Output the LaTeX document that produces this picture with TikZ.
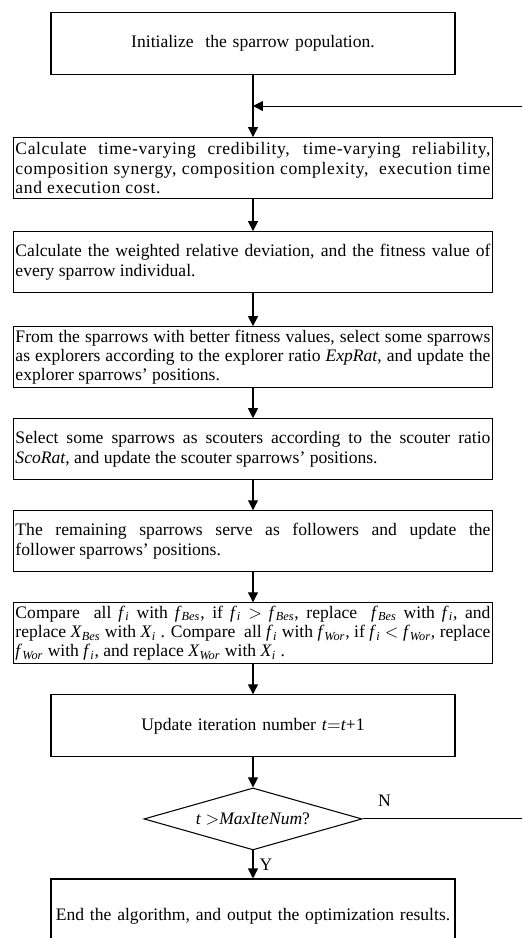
\documentclass[tikz,border=0pt]{standalone}
\usepackage{fontspec}
\setmainfont{Liberation Serif}
\usepackage{amsmath}
\usepackage{tikz}
\usetikzlibrary{positioning,calc,shapes.geometric,arrows.meta}
\hyphenpenalty=10000
\exhyphenpenalty=10000
\newcommand{\sv}[2]{\textit{#1}\textsubscript{\textit{#2}}}
\tikzstyle{wide} = [draw, rectangle, text width=9.5cm, inner xsep=0.04cm, inner ysep=0pt, minimum height=1.22cm, align=justify, font=\fontsize{10pt}{11pt}\selectfont]
\tikzstyle{narrow} = [draw, rectangle, text width=7.9cm, inner xsep=0.09cm, minimum height=1.24cm, align=center]
\tikzstyle{decision} = [draw, diamond, aspect=3.5, minimum width=4.36cm, minimum height=1.24cm, inner sep=0pt]
\tikzstyle{data} = []
\tikzstyle{flow} = [-{Triangle[length=2mm,width=2mm]}]

\begin{document}
\begin{tikzpicture}[auto, node distance=0.6cm, line width=0.6pt]
	\useasboundingbox (-5.06,0.87) rectangle (5.38,-17.89);
	\clip (-5.06,0.87) rectangle (5.38,-17.89);
	\node (init) [narrow] {Initialize\ \ the sparrow population.};
	\node (cred) [wide, below=1.24cm of init] {\addfontfeatures{LetterSpace=3.5}Calculate time-varying credibility, time-varying reliability,\linebreak composition synergy, composition complexity,\ \ execution time\linebreak and execution cost.};
	\node (fit) [wide, below=0.64cm of cred] {Calculate the weighted relative deviation, and the fitness value of every sparrow individual.};
	\node (expl) [wide, below=0.66cm of fit] {From the sparrows with better fitness values, select some sparrows as explorers according to the explorer ratio \textit{ExpRat}, and update the explorer sparrows' positions.};
	\node (scou) [wide, below=of expl] {Select some sparrows as scouters according to the scouter ratio\linebreak \textit{ScoRat}, and update the scouter sparrows' positions.};
	\node (foll) [wide, below=of scou] {The remaining sparrows serve as followers and update the\linebreak follower sparrows' positions.};
	\node (comp) [wide, below=of foll] {Compare\ \ all \sv{f}{i} with \sv{f}{Bes}, if \sv{f}{i} $>$ \sv{f}{Bes}, replace\ \ \sv{f}{Bes} with \sv{f}{i}, and\linebreak replace \sv{X}{Bes} with \sv{X}{i} . Compare\ \ all \sv{f}{i} with \sv{f}{Wor}, if \sv{f}{i} $<$ \sv{f}{Wor}, replace\linebreak \sv{f}{Wor} with \sv{f}{i}, and replace \sv{X}{Wor} with \sv{X}{i} .};
	\node (iter) [narrow, below=of comp] {Update iteration number \textit{t}$=$\textit{t}+1};
	\node (check) [decision, below=of iter] {\textit{t} $>$\textit{MaxIteNum}?};
	\node (stop) [narrow, minimum height=1.48cm, below=0.56cm of check] {End the algorithm, and output the optimization results.};
	\node (no) [data] at ($(check.east)+(0.44,0.36)$) {N};
	\node (yes) [data] at ($(check.south)+(0.26,-0.28)$) {Y};
	\coordinate (loop) at ($(init.south)!0.5!(cred.north)$);
	\coordinate (back) at ($(check.east)+(3.4,0)$);
	\draw [flow] (init.south) -- (cred.north);
	\draw [flow] (cred.south) -- (fit.north);
	\draw [flow] (fit.south) -- (expl.north);
	\draw [flow] (expl.south) -- (scou.north);
	\draw [flow] (scou.south) -- (foll.north);
	\draw [flow] (foll.south) -- (comp.north);
	\draw [flow] (comp.south) -- (iter.north);
	\draw [flow] (iter.south) -- (check.north);
	\draw [flow] (check.south) -- (stop.north);
	\draw [flow] (check.east) -- (back) |- (loop);
\end{tikzpicture}
\end{document}
